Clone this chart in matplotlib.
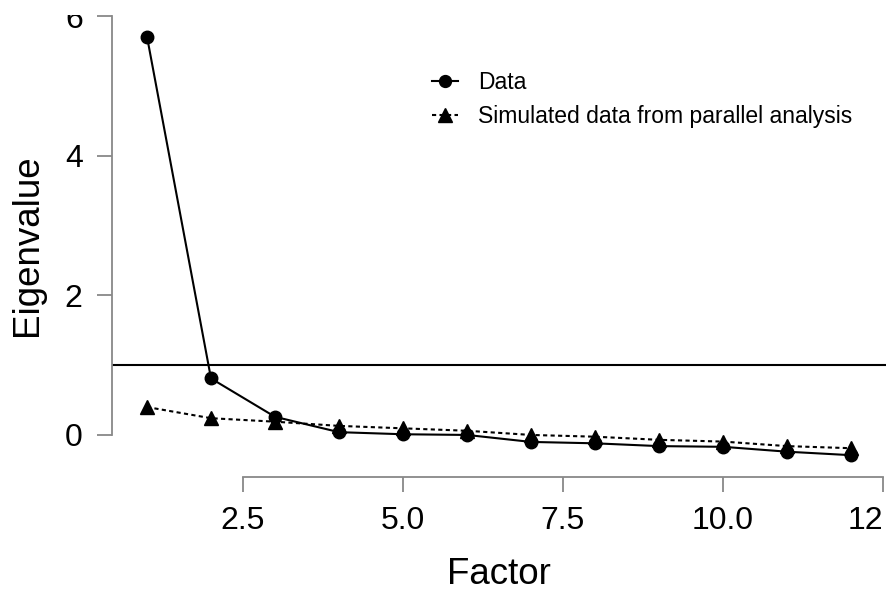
import numpy as np
import matplotlib
matplotlib.use('Agg')
import matplotlib.pyplot as plt
from matplotlib.transforms import Bbox

plt.rcParams['font.family'] = ['Liberation Sans', 'DejaVu Sans']

# scree plot values
factors = [1, 2, 3, 4, 5, 6, 7, 8, 9, 10, 11, 12]
eigen_data = [5.71, 0.81, 0.26, 0.04, 0.01, 0.00, -0.10, -0.12, -0.16, -0.17, -0.24, -0.29]
eigen_sim = [0.40, 0.24, 0.19, 0.13, 0.095, 0.06, 0.00, -0.025, -0.07, -0.095, -0.16, -0.19]
x_ticks = [2.5, 5.0, 7.5, 10.0, 12.5]
x_tick_labels = ['2.5', '5.0', '7.5', '10.0', '12']
y_ticks = [0, 2, 4, 6]
kaiser = 1.0

W, H = 890, 590
fig = plt.figure(figsize=(W / 100, H / 100), dpi=100)

# axes placed in pixels so that data maps like the reference
xlim = (0.45, 12.55)
ylim = (-0.6, 6.23)
left_px, right_px = 111.8, 111.8 + (xlim[1] - xlim[0]) * 64
bottom_px = 476.8
top_px = bottom_px - (ylim[1] - ylim[0]) * 69.75
ax = fig.add_axes([left_px / W, 1 - bottom_px / H,
                   (right_px - left_px) / W, (bottom_px - top_px) / H])
ax.set_xlim(*xlim)
ax.set_ylim(*ylim)
ax_h = bottom_px - top_px
ax_w = right_px - left_px

ax.axhline(kaiser, color='black', linewidth=1.5, zorder=1)
ax.plot(factors, eigen_sim, color='black', linewidth=1.5, linestyle=(0, (2, 1.6)),
        marker='^', markersize=10, label='Simulated data from parallel analysis', zorder=2)
ax.plot(factors, eigen_data, color='black', linewidth=1.5, marker='o', markersize=9,
        label='Data', zorder=3)

for s in ['top', 'right']:
    ax.spines[s].set_visible(False)
for s in ['left', 'bottom']:
    ax.spines[s].set_color('#888888')
    ax.spines[s].set_linewidth(1.3)
ax.spines['left'].set_bounds(0, 6)
ax.spines['bottom'].set_bounds(2.5, 12.5)

ax.set_xticks(x_ticks)
ax.set_xticklabels(x_tick_labels)
ax.set_yticks(y_ticks)
ax.tick_params(axis='both', length=11, width=1.3, color='#888888', pad=10,
               labelsize=23, labelcolor='black')
# last x label sits left of its tick, top y label is cut like the reference
ax.get_xticklabels()[-1].set_ha('right')
top_lab = ax.get_yticklabels()[-1]
top_lab.set_clip_box(Bbox([[0, 0], [W, H - 15]]))
top_lab.set_clip_on(True)

ax.set_xlabel('Factor', fontsize=26.5)
ax.set_ylabel('Eigenvalue', fontsize=26.5)
ax.xaxis.set_label_coords(0.5, -(574 - bottom_px) / ax_h, transform=ax.transAxes)
ax.xaxis.label.set_va('center')
ax.yaxis.set_label_coords(-(left_px - 27) / ax_w, (bottom_px - 245) / ax_h,
                          transform=ax.transAxes)
ax.yaxis.label.set_va('center')

handles, labels = ax.get_legend_handles_labels()
ax.legend(handles[::-1], labels[::-1], loc='upper left',
          bbox_to_anchor=(431.7 / W, 1 - 71 / H), bbox_transform=fig.transFigure,
          frameon=False, fontsize=16.5, borderpad=0, borderaxespad=0,
          handlelength=1.15, handletextpad=0.87, labelspacing=0.48, markerscale=0.95)

fig.savefig('out.png', dpi=100)
